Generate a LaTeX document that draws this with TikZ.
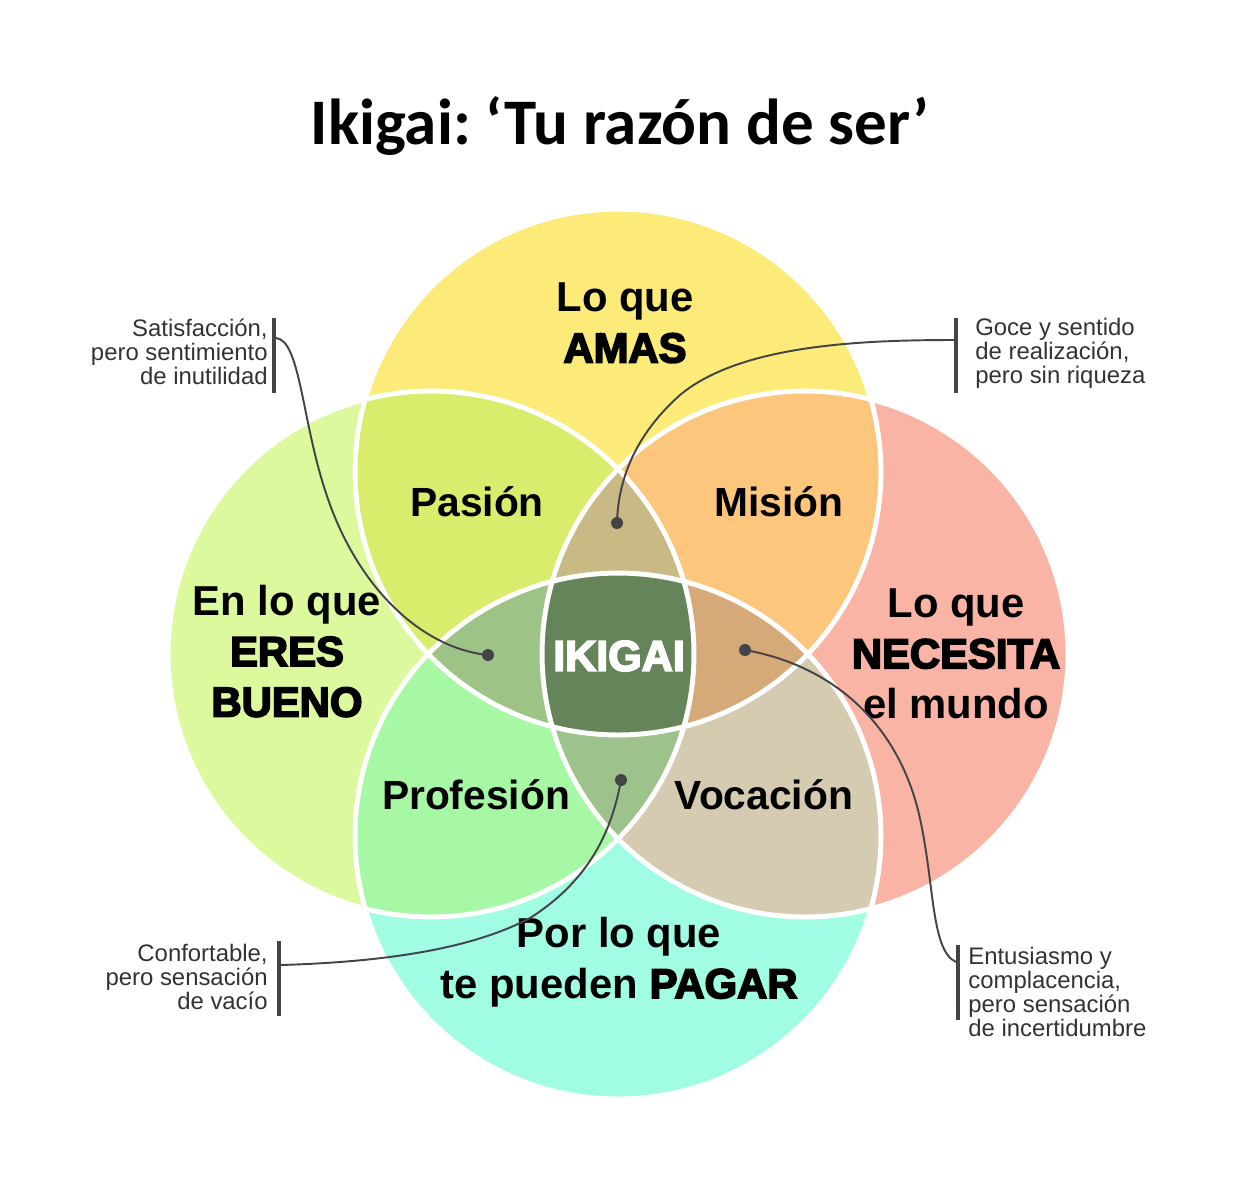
\documentclass[tikz,border=0pt]{standalone}
\usepackage{fontspec}
\setmainfont{Liberation Sans}
\newfontfamily\titlefont{Carlito}
\newfontfamily\heavyfont{Liberation Sans}[BoldFeatures={FakeBold=4}]
\frenchspacing
\definecolor{cT}{HTML}{FCEB78}
\definecolor{cL}{HTML}{DCF99E}
\definecolor{cR}{HTML}{F9B4A6}
\definecolor{cB}{HTML}{A0FCE2}
\definecolor{cTL}{HTML}{DAEC6C}
\definecolor{cTR}{HTML}{FCC77D}
\definecolor{cLB}{HTML}{A7F8A4}
\definecolor{cRB}{HTML}{D5CBB1}
\definecolor{cTLR}{HTML}{C8B985}
\definecolor{cTLB}{HTML}{9EC386}
\definecolor{cTRB}{HTML}{D6A979}
\definecolor{cLRB}{HTML}{9EC28B}
\definecolor{cAll}{HTML}{668459}
\definecolor{ink}{HTML}{444448}
\definecolor{note}{HTML}{333333}
\begin{document}
\begin{tikzpicture}[x=0.02cm,y=-0.02cm,
  region/.style={font=\bfseries\fontsize{23.2}{26}\selectfont, inner sep=0pt},
  big/.style={font=\bfseries\fontsize{23.8}{28.8}\selectfont, align=center, inner sep=0pt},
  notetext/.style={font=\fontsize{13.6}{13.6}\selectfont, text=note, inner sep=0pt},
  notebar/.style={fill=ink, draw=none, minimum width=0.08cm, minimum height=1.5cm, inner sep=0pt},
  dotnode/.style={circle, fill=ink, minimum size=0.24cm, inner sep=0pt},
  link/.style={draw=ink, line width=1.1pt},
  ring/.style={draw=white, line width=2.8pt}]
\useasboundingbox (0,0) rectangle (1239,1188);
\fill[white] (0,0) rectangle (1239,1188);
\def\rad{5.26cm}
\coordinate (T) at (618,472);
\coordinate (B) at (618,836);
\coordinate (L) at (431,654);
\coordinate (R) at (805,654);
% single circles
\fill[cT] (T) circle[radius=\rad];
\fill[cL] (L) circle[radius=\rad];
\fill[cR] (R) circle[radius=\rad];
\fill[cB] (B) circle[radius=\rad];
% pairs
\begin{scope}\clip (T) circle[radius=\rad]; \fill[cTL] (L) circle[radius=\rad]; \fill[cTR] (R) circle[radius=\rad];\end{scope}
\begin{scope}\clip (B) circle[radius=\rad]; \fill[cLB] (L) circle[radius=\rad]; \fill[cRB] (R) circle[radius=\rad];\end{scope}
% triples
\begin{scope}\clip (T) circle[radius=\rad]; \clip (L) circle[radius=\rad]; \fill[cTLR] (R) circle[radius=\rad];\end{scope}
\begin{scope}\clip (T) circle[radius=\rad]; \clip (L) circle[radius=\rad]; \fill[cTLB] (B) circle[radius=\rad];\end{scope}
\begin{scope}\clip (T) circle[radius=\rad]; \clip (R) circle[radius=\rad]; \fill[cTRB] (B) circle[radius=\rad];\end{scope}
\begin{scope}\clip (B) circle[radius=\rad]; \clip (L) circle[radius=\rad]; \fill[cLRB] (R) circle[radius=\rad];\end{scope}
% all four
\begin{scope}\clip (T) circle[radius=\rad]; \clip (L) circle[radius=\rad]; \clip (R) circle[radius=\rad]; \fill[cAll] (B) circle[radius=\rad];\end{scope}
% outlines
\draw[ring] (T) circle[radius=\rad];
\draw[ring] (L) circle[radius=\rad];
\draw[ring] (R) circle[radius=\rad];
\draw[ring] (B) circle[radius=\rad];

% title
\node[font=\titlefont\bfseries\fontsize{37}{40}\selectfont, inner sep=0pt] (title) at (620,126) {Ikigai: ‘Tu razón de ser’};

% main labels
\node[big] (amas) at (625,323) {Lo que\\{\heavyfont\bfseries AMAS}};
\node[big] (bueno) at (287,651) {En lo que\\{\heavyfont\bfseries ERES}\\{\heavyfont\bfseries BUENO}};
\node[big] (mundo) at (956,654) {Lo que\\{\heavyfont\bfseries NECESITA}\\el mundo};
\node[big] (pagar) at (619,962) {Por lo que\\te pueden {\heavyfont\bfseries PAGAR}};
\node[region] (pasion) at (477,502) {Pasión};
\node[region] (mision) at (779,502) {Misión};
\node[region] (profesion) at (476,795) {Profesión};
\node[region] (vocacion) at (764,795) {Vocación};
\node[font=\heavyfont\bfseries\fontsize{24.5}{26}\selectfont, text=white, inner sep=0pt] (ikigai) at (619,656) {IKIGAI};

% annotation texts and bars
\node[notetext, align=right, anchor=east] (nTL) at (268,352) {Satisfacción,\\pero sentimiento\\de inutilidad};
\node[notebar] (bTL) at (274,355) {};
\node[notetext, align=left, anchor=west] (nTR) at (975,353) {Goce y sentido\\de realización,\\pero sin riqueza};
\node[notebar] (bTR) at (956,355) {};
\node[notetext, align=right, anchor=east] (nBL) at (268,977) {Confortable,\\pero sensación\\de vacío};
\node[notebar] (bBL) at (279,978) {};
\node[notetext, align=left, anchor=west] (nBR) at (968,992) {Entusiasmo y\\complacencia,\\pero sensación\\de incertidumbre};
\node[notebar] (bBR) at (958,982) {};

% dots
\node[dotnode] (dTL) at (488,655) {};
\node[dotnode] (dTR) at (617,523) {};
\node[dotnode] (dBL) at (621,780) {};
\node[dotnode] (dBR) at (745,650) {};

% connector start points on bars
\coordinate (sTL) at (276,338);
\coordinate (sTR) at (954,340);
\coordinate (sBL) at (281,965);
\coordinate (sBR) at (956,962);

\draw[link] (sTL) .. controls (300,340) and (302,420) .. (325,490)
  .. controls (355,585) and (420,648) .. (dTL.center);
\draw[link] (sTR) .. controls (860,340) and (740,345) .. (680,395)
  .. controls (635,435) and (618,480) .. (dTR.center);
\draw[link] (sBL) .. controls (380,962) and (470,950) .. (530,918)
  .. controls (590,880) and (612,830) .. (dBL.center);
\draw[link] (dBR.center) .. controls (830,665) and (895,720) .. (918,810)
  .. controls (935,880) and (930,950) .. (sBR);
\end{tikzpicture}
\end{document}
